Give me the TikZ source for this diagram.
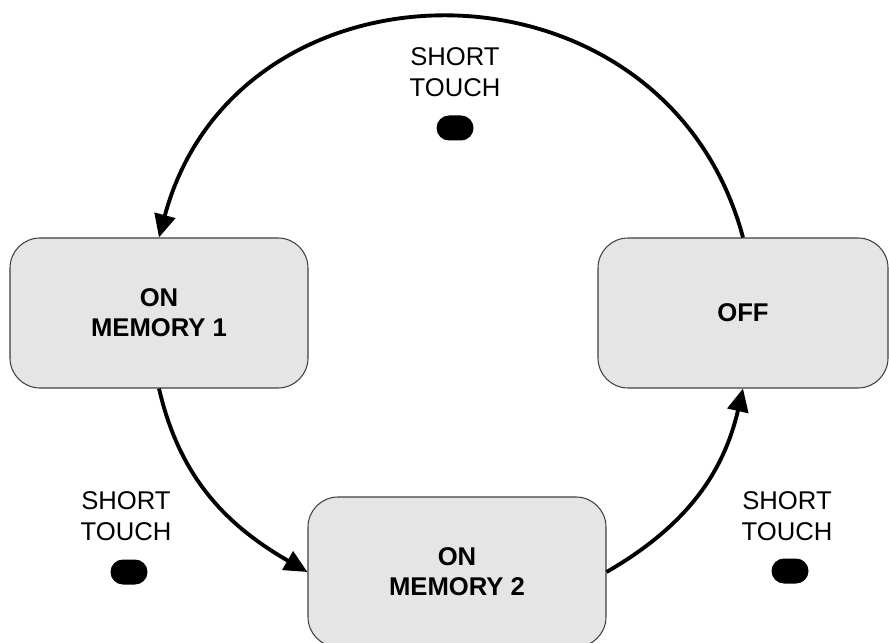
\documentclass[tikz,border=0pt]{standalone}
\usepackage{fontspec}
\setmainfont{Liberation Sans}
\usetikzlibrary{arrows.meta}
\begin{document}
\begin{tikzpicture}[
  state/.style={draw=black!75, line width=0.6pt, fill=black!10, rounded corners=0.6cm, minimum width=5.96cm, minimum height=3cm, align=center, font=\fontsize{14.6}{17}\selectfont\bfseries},
  touch/.style={align=center, font=\fontsize{14.6}{18}\selectfont},
  pill/.style={fill=black, rounded corners=0.25cm, minimum width=0.74cm, minimum height=0.5cm, inner sep=0pt},
  arr/.style={line width=2.2pt, -{Triangle[length=0.46cm, width=0.42cm]}}]
\useasboundingbox (0,0) rectangle (17.78,12.84);
%%%% states
\node[state] (m1) at (3.18,6.58) {ON\\MEMORY 1};
\node[state, minimum width=5.8cm] (off) at (14.86,6.58) {OFF};
\node[state] (m2) at (9.14,1.40) {ON\\MEMORY 2};
%%%% touch labels
\node[touch] (ttop) at (9.1,11.4) {SHORT\\TOUCH};
\node[pill] (ptop) at (9.1,10.28) {};
\node[touch] (tleft) at (2.52,2.52) {SHORT\\TOUCH};
\node[pill] (pleft) at (2.58,1.40) {};
\node[touch] (tright) at (15.74,2.52) {SHORT\\TOUCH};
\node[pill] (pright) at (15.8,1.42) {};
%%%% transitions
\draw[arr] (off.north) to[out=105, in=75, looseness=1.33] (m1.north);
\draw[arr] (m1.south) to[out=-77, in=150] (m2.west);
\draw[arr] (m2.east) to[out=30, in=-103] (off.south);
\end{tikzpicture}
\end{document}
